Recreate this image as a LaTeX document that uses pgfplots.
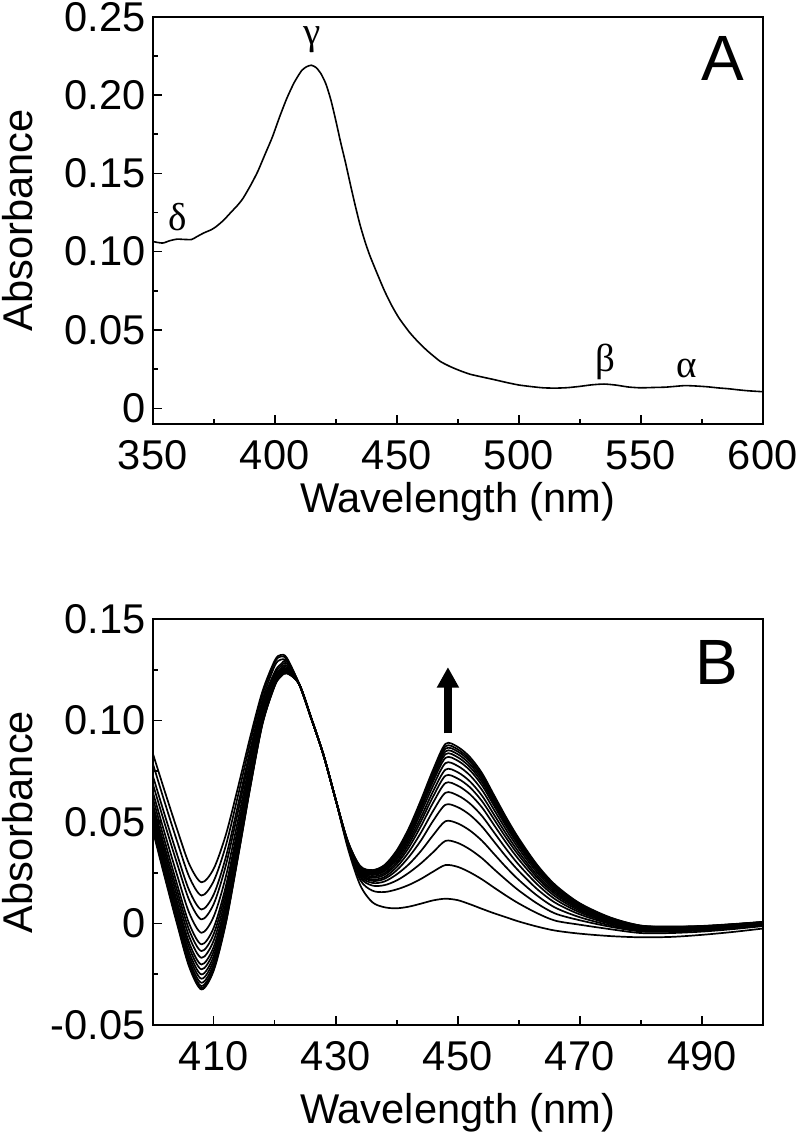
\documentclass[border=0pt]{standalone}
\usepackage{fontspec}
\setmainfont{Liberation Sans}
\newfontfamily\greekfont{Liberation Serif}
\usepackage{pgfplots}
\pgfplotsset{compat=1.18}
\usetikzlibrary{arrows.meta}
\tikzset{greek/.style={font=\greekfont\fontsize{19.5}{22}\selectfont}}
\begin{document}
\begin{tikzpicture}
\useasboundingbox (0,0) rectangle (400pt,570pt);
\pgfplotsset{
  panel/.style={
    scale only axis, width=305pt,
    axis line style={line width=0.9pt},
    tick align=inside, tick pos=left,
    major tick length=4.5pt, minor tick length=2.5pt,
    every tick/.style={black, line width=0.8pt},
    /pgf/number format/assume math mode=true,
    ticklabel style={font=\fontsize{20.8}{24}\selectfont},
    xticklabel style={yshift=-4.5pt},
    every axis y label/.style={at={(axis description cs:-0.196,0.5)}, rotate=90, anchor=south, inner sep=0pt, font=\fontsize{20.8}{24}\selectfont},
  },
  spec/.style={black, line width=0.85pt, smooth, tension=0.5, line join=round, mark=none},
}
% ---------------- Panel A ----------------
\begin{axis}[panel, at={(76.35pt,358pt)}, anchor=south west, height=203.65pt,
  xmin=350, xmax=600, ymin=-0.01, ymax=0.25,
  xtick={350,400,450,500,550,600},
  xticklabels={350,400,450,500,550,600},
  minor xtick={375,425,475,525,575},
  ytick={0,0.05,0.10,0.15,0.20,0.25},
  yticklabels={0,0.05,0.10,0.15,0.20,0.25},
  minor ytick={0.025,0.075,0.125,0.175,0.225},
  xlabel={Wavelength (nm)}, ylabel={Absorbance},
  every axis x label/.style={at={(axis description cs:0.5,-0.1417)}, anchor=north, inner sep=0pt, font=\fontsize{20.8}{24}\selectfont},
]
\addplot[black, line width=0.8pt, smooth, tension=0.4, mark=none] coordinates {
(350,0.1065)(354,0.1055)(357,0.1070)(360,0.1080)(363,0.1078)(366,0.1078)(368,0.1095)(371,0.1120)(374,0.1140)(376,0.1160)(379,0.1200)(382,0.1250)(385,0.1300)(387,0.1340)(390,0.1420)(393,0.1510)(396,0.1620)(399,0.1730)(402,0.1860)(405,0.1980)(408,0.2080)(411,0.2155)(413,0.2180)(415,0.2190)(417,0.2175)(419,0.2135)(421,0.2070)(423,0.1970)(425,0.1840)(427,0.1700)(429,0.1570)(431,0.1430)(433,0.1295)(435,0.1170)(437,0.1065)(439,0.0975)(442,0.0860)(445,0.0750)(448,0.0655)(451,0.0575)(455,0.0490)(458,0.0437)(462,0.0375)(465,0.0335)(468,0.0298)(472,0.0266)(476,0.0240)(480,0.0218)(485,0.0200)(490,0.0183)(495,0.0165)(500,0.0149)(505,0.0139)(510,0.0131)(515,0.0129)(520,0.0132)(525,0.0140)(530,0.0150)(535,0.0155)(540,0.0148)(545,0.0136)(550,0.0131)(555,0.0133)(560,0.0135)(564,0.0140)(568,0.0145)(572,0.0143)(577,0.0138)(582,0.0130)(586,0.0125)(590,0.0118)(594,0.0112)(600,0.0106)};
\node[greek] at (axis cs:360.4,0.1223) {δ};
\node[greek] at (axis cs:415.3,0.2355) {γ};
\node[greek] at (axis cs:535.4,0.0296) {β};
\node[greek] at (axis cs:569,0.0257) {α};
\node[font=\fontsize{32}{36}\selectfont] at (axis cs:583.7,0.2233) {A};
\end{axis}
% ---------------- Panel B ----------------
\begin{axis}[panel, at={(76.35pt,57.5pt)}, anchor=south west, height=203pt,
  xmin=400, xmax=500, ymin=-0.05, ymax=0.15,
  xtick={410,430,450,470,490},
  xticklabels={410,430,450,470,490},
  minor xtick={420,440,460,480},
  ytick={-0.05,0,0.05,0.10,0.15},
  yticklabels={-0.05,0,0.05,0.10,0.15},
  minor ytick={-0.025,0.025,0.075,0.125},
  xlabel={Wavelength (nm)}, ylabel={Absorbance},
  every axis x label/.style={at={(axis description cs:0.5,-0.168)}, anchor=north, inner sep=0pt, font=\fontsize{20.8}{24}\selectfont},
]
\addplot[spec] coordinates {(400,0.0840)(402,0.0649)(404,0.0464)(406,0.0292)(408,0.0203)(410,0.0270)(412,0.0438)(414,0.0673)(416,0.0920)(418,0.1144)(420,0.1295)(421,0.1323)(422,0.1308)(424,0.118)(426,0.101)(428,0.083)(430,0.061)(432,0.037)(434,0.0190)(436,0.0105)(438,0.0080)(440,0.0075)(442,0.0083)(444,0.0098)(446,0.0114)(448,0.0122)(450,0.0115)(452,0.0095)(454,0.0072)(456,0.0050)(458,0.0030)(460,0.0010)(463,-0.0015)(466,-0.0035)(470,-0.0050)(475,-0.0062)(480,-0.0068)(485,-0.0066)(490,-0.0056)(495,-0.0042)(500,-0.0025)};
\addplot[spec] coordinates {(400,0.0790)(402,0.0594)(404,0.0405)(406,0.0229)(408,0.0138)(410,0.0209)(412,0.0385)(414,0.0632)(416,0.0891)(418,0.1127)(420,0.1286)(421,0.1315)(422,0.1300)(424,0.118)(426,0.101)(428,0.083)(430,0.061)(432,0.038)(434,0.0215)(436,0.0162)(438,0.0155)(440,0.0168)(442,0.0190)(444,0.0220)(446,0.0256)(448,0.0288)(450,0.0279)(452,0.0252)(454,0.0217)(456,0.0176)(458,0.0136)(460,0.0099)(463,0.0051)(466,0.0014)(470,-0.0006)(475,-0.0028)(480,-0.0047)(485,-0.0047)(490,-0.0040)(495,-0.0028)(500,-0.0013)};
\addplot[spec] coordinates {(400,0.0730)(402,0.0532)(404,0.0340)(406,0.0162)(408,0.0069)(410,0.0143)(412,0.0328)(414,0.0586)(416,0.0857)(418,0.1103)(420,0.1269)(421,0.1300)(422,0.1290)(424,0.118)(426,0.101)(428,0.083)(430,0.061)(432,0.0385)(434,0.0228)(436,0.0187)(438,0.0189)(440,0.0212)(442,0.0250)(444,0.0297)(446,0.0352)(448,0.0407)(450,0.0397)(452,0.0365)(454,0.0321)(456,0.0266)(458,0.0213)(460,0.0163)(463,0.0099)(466,0.0049)(470,0.0016)(475,-0.0016)(480,-0.0039)(485,-0.0040)(490,-0.0034)(495,-0.0022)(500,-0.0008)};
\addplot[spec] coordinates {(400,0.0690)(402,0.0489)(404,0.0295)(406,0.0114)(408,0.0020)(410,0.0096)(412,0.0287)(414,0.0553)(416,0.0833)(418,0.1087)(420,0.1239)(421,0.1277)(422,0.1290)(424,0.118)(426,0.101)(428,0.083)(430,0.061)(432,0.0388)(434,0.0236)(436,0.0200)(438,0.0207)(440,0.0242)(442,0.0292)(444,0.0358)(446,0.0436)(448,0.0504)(450,0.0493)(452,0.0458)(454,0.0407)(456,0.0341)(458,0.0275)(460,0.0215)(463,0.0138)(466,0.0078)(470,0.0031)(475,-0.0009)(480,-0.0034)(485,-0.0036)(490,-0.0030)(495,-0.0019)(500,-0.0006)};
\addplot[spec] coordinates {(400,0.0650)(402,0.0441)(404,0.0239)(406,0.0051)(408,-0.0046)(410,0.0034)(412,0.0232)(414,0.0511)(416,0.0803)(418,0.1068)(420,0.1227)(421,0.1267)(422,0.1280)(424,0.118)(426,0.101)(428,0.083)(430,0.061)(432,0.039)(434,0.0243)(436,0.0210)(438,0.0220)(440,0.0262)(442,0.0328)(444,0.0410)(446,0.0507)(448,0.0585)(450,0.0573)(452,0.0535)(454,0.0477)(456,0.0402)(458,0.0327)(460,0.0259)(463,0.0170)(466,0.0102)(470,0.0045)(475,-0.0002)(480,-0.0030)(485,-0.0033)(490,-0.0027)(495,-0.0017)(500,-0.0004)};
\addplot[spec] coordinates {(400,0.0620)(402,0.0403)(404,0.0193)(406,-0.0002)(408,-0.0103)(410,-0.0021)(412,0.0185)(414,0.0474)(416,0.0776)(418,0.1050)(420,0.1215)(421,0.1256)(422,0.1270)(424,0.118)(426,0.101)(428,0.083)(430,0.061)(432,0.039)(434,0.0248)(436,0.0217)(438,0.0229)(440,0.0278)(442,0.0353)(444,0.0449)(446,0.0556)(448,0.0644)(450,0.0631)(452,0.0591)(454,0.0529)(456,0.0447)(458,0.0365)(460,0.0290)(463,0.0194)(466,0.0119)(470,0.0055)(475,0.0003)(480,-0.0027)(485,-0.0030)(490,-0.0025)(495,-0.0014)(500,-0.0002)};
\addplot[spec] coordinates {(400,0.0590)(402,0.0372)(404,0.0162)(406,-0.0034)(408,-0.0136)(410,-0.0052)(412,0.0158)(414,0.0451)(416,0.0759)(418,0.1038)(420,0.1206)(421,0.1248)(422,0.1262)(424,0.118)(426,0.101)(428,0.083)(430,0.061)(432,0.039)(434,0.0253)(436,0.0225)(438,0.0240)(440,0.0292)(442,0.0375)(444,0.0481)(446,0.0597)(448,0.0692)(450,0.0679)(452,0.0637)(454,0.0571)(456,0.0483)(458,0.0396)(460,0.0316)(463,0.0213)(466,0.0133)(470,0.0063)(475,0.0008)(480,-0.0024)(485,-0.0027)(490,-0.0023)(495,-0.0012)(500,0.0000)};
\addplot[spec] coordinates {(400,0.0570)(402,0.0348)(404,0.0134)(406,-0.0066)(408,-0.0169)(410,-0.0084)(412,0.0130)(414,0.0429)(416,0.0742)(418,0.1027)(420,0.1198)(421,0.1241)(422,0.1255)(424,0.118)(426,0.101)(428,0.083)(430,0.061)(432,0.0392)(434,0.0258)(436,0.0232)(438,0.0248)(440,0.0303)(442,0.0392)(444,0.0505)(446,0.0627)(448,0.0728)(450,0.0714)(452,0.0671)(454,0.0602)(456,0.0511)(458,0.0419)(460,0.0336)(463,0.0227)(466,0.0144)(470,0.0070)(475,0.0012)(480,-0.0022)(485,-0.0025)(490,-0.0021)(495,-0.0011)(500,0.0001)};
\addplot[spec] coordinates {(400,0.0550)(402,0.0324)(404,0.0106)(406,-0.0097)(408,-0.0202)(410,-0.0115)(412,0.0103)(414,0.0408)(416,0.0727)(418,0.1018)(420,0.1192)(421,0.1235)(422,0.1250)(424,0.118)(426,0.101)(428,0.083)(430,0.061)(432,0.0394)(434,0.0263)(436,0.0239)(438,0.0257)(440,0.0315)(442,0.0407)(444,0.0525)(446,0.0653)(448,0.0758)(450,0.0745)(452,0.0700)(454,0.0629)(456,0.0534)(458,0.0439)(460,0.0352)(463,0.0239)(466,0.0153)(470,0.0076)(475,0.0015)(480,-0.0019)(485,-0.0023)(490,-0.0019)(495,-0.0009)(500,0.0003)};
\addplot[spec] coordinates {(400,0.0530)(402,0.0303)(404,0.0084)(406,-0.0120)(408,-0.0226)(410,-0.0138)(412,0.0083)(414,0.0392)(416,0.0716)(418,0.1010)(420,0.1187)(421,0.1231)(422,0.1246)(424,0.118)(426,0.101)(428,0.083)(430,0.061)(432,0.0396)(434,0.0266)(436,0.0244)(438,0.0263)(440,0.0323)(442,0.0421)(444,0.0547)(446,0.0680)(448,0.0790)(450,0.0776)(452,0.0730)(454,0.0657)(456,0.0558)(458,0.0459)(460,0.0369)(463,0.0252)(466,0.0162)(470,0.0081)(475,0.0018)(480,-0.0018)(485,-0.0022)(490,-0.0018)(495,-0.0008)(500,0.0004)};
\addplot[spec] coordinates {(400,0.0510)(402,0.0282)(404,0.0061)(406,-0.0144)(408,-0.0251)(410,-0.0161)(412,0.0063)(414,0.0376)(416,0.0705)(418,0.1004)(420,0.1183)(421,0.1228)(422,0.1243)(424,0.118)(426,0.101)(428,0.083)(430,0.061)(432,0.0398)(434,0.0270)(436,0.0249)(438,0.0270)(440,0.0332)(442,0.0433)(444,0.0564)(446,0.0702)(448,0.0816)(450,0.0802)(452,0.0755)(454,0.0680)(456,0.0578)(458,0.0476)(460,0.0383)(463,0.0263)(466,0.0170)(470,0.0086)(475,0.0021)(480,-0.0016)(485,-0.0020)(490,-0.0016)(495,-0.0007)(500,0.0005)};
\addplot[spec] coordinates {(400,0.0500)(402,0.0268)(404,0.0045)(406,-0.0164)(408,-0.0272)(410,-0.0181)(412,0.0046)(414,0.0363)(416,0.0696)(418,0.0998)(420,0.1180)(421,0.1225)(422,0.1240)(424,0.118)(426,0.101)(428,0.083)(430,0.061)(432,0.0400)(434,0.0273)(436,0.0253)(438,0.0274)(440,0.0337)(442,0.0442)(444,0.0576)(446,0.0717)(448,0.0834)(450,0.0819)(452,0.0771)(454,0.0695)(456,0.0591)(458,0.0487)(460,0.0393)(463,0.0270)(466,0.0175)(470,0.0089)(475,0.0023)(480,-0.0015)(485,-0.0019)(490,-0.0016)(495,-0.0006)(500,0.0005)};
\addplot[spec] coordinates {(400,0.0490)(402,0.0255)(404,0.0029)(406,-0.0183)(408,-0.0292)(410,-0.0200)(412,0.0029)(414,0.0351)(416,0.0687)(418,0.0993)(420,0.1177)(421,0.1223)(422,0.1238)(424,0.118)(426,0.101)(428,0.083)(430,0.061)(432,0.0401)(434,0.0276)(436,0.0256)(438,0.0278)(440,0.0343)(442,0.0449)(444,0.0586)(446,0.0729)(448,0.0848)(450,0.0834)(452,0.0785)(454,0.0708)(456,0.0602)(458,0.0496)(460,0.0400)(463,0.0275)(466,0.0179)(470,0.0092)(475,0.0024)(480,-0.0013)(485,-0.0018)(490,-0.0015)(495,-0.0005)(500,0.0006)};
\addplot[spec] coordinates {(400,0.0480)(402,0.0244)(404,0.0015)(406,-0.0198)(408,-0.0308)(410,-0.0215)(412,0.0016)(414,0.0340)(416,0.0680)(418,0.0989)(420,0.1174)(421,0.1221)(422,0.1236)(424,0.118)(426,0.101)(428,0.083)(430,0.061)(432,0.0402)(434,0.0278)(436,0.0259)(438,0.0282)(440,0.0349)(442,0.0457)(444,0.0594)(446,0.0740)(448,0.0861)(450,0.0847)(452,0.0798)(454,0.0719)(456,0.0612)(458,0.0505)(460,0.0407)(463,0.0281)(466,0.0183)(470,0.0095)(475,0.0026)(480,-0.0012)(485,-0.0017)(490,-0.0014)(495,-0.0005)(500,0.0007)};
\addplot[spec] coordinates {(400,0.0470)(402,0.0234)(404,0.0005)(406,-0.0208)(408,-0.0318)(410,-0.0225)(412,0.0008)(414,0.0334)(416,0.0675)(418,0.0986)(420,0.1172)(421,0.1218)(422,0.1234)(424,0.118)(426,0.101)(428,0.083)(430,0.061)(432,0.0403)(434,0.0281)(436,0.0261)(438,0.0286)(440,0.0354)(442,0.0463)(444,0.0602)(446,0.0750)(448,0.0873)(450,0.0858)(452,0.0808)(454,0.0729)(456,0.0621)(458,0.0512)(460,0.0413)(463,0.0285)(466,0.0186)(470,0.0097)(475,0.0028)(480,-0.0011)(485,-0.0016)(490,-0.0013)(495,-0.0004)(500,0.0007)};
\addplot[spec] coordinates {(400,0.0460)(402,0.0225)(404,-0.0003)(406,-0.0215)(408,-0.0325)(410,-0.0232)(412,0.0002)(414,0.0329)(416,0.0671)(418,0.0983)(420,0.1170)(421,0.1216)(422,0.1232)(424,0.118)(426,0.101)(428,0.083)(430,0.061)(432,0.0405)(434,0.0284)(436,0.0263)(438,0.0288)(440,0.0360)(442,0.0470)(444,0.0610)(446,0.0760)(448,0.0885)(450,0.0870)(452,0.0820)(454,0.0740)(456,0.0630)(458,0.0520)(460,0.0420)(463,0.0290)(466,0.0190)(470,0.0100)(475,0.0030)(480,-0.0010)(485,-0.0015)(490,-0.0012)(495,-0.0003)(500,0.0008)};
\draw[line width=4pt, -{Triangle[width=10.5pt,length=10.3pt]}] (axis cs:448.4,0.0937) -- (axis cs:448.4,0.1263);
\node[font=\fontsize{32}{36}\selectfont] at (axis cs:492.5,0.1285) {B};
\end{axis}
\end{tikzpicture}
\end{document}
